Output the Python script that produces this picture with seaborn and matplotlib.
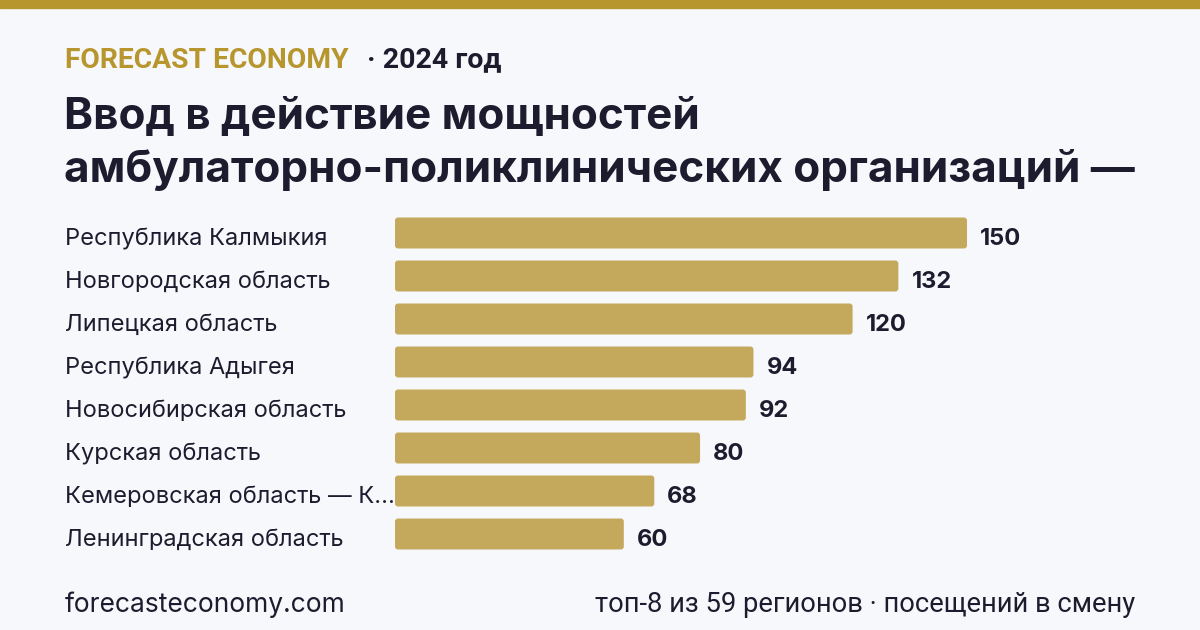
import seaborn as sns
import matplotlib.pyplot as plt
import matplotlib.transforms as mtransforms
from matplotlib.patches import FancyBboxPatch
import pandas as pd

# data
regions = [
    "Республика Калмыкия",
    "Новгородская область",
    "Липецкая область",
    "Республика Адыгея",
    "Новосибирская область",
    "Курская область",
    "Кемеровская область — К...",
    "Ленинградская область",
]
visits = [150, 132, 120, 94, 92, 80, 68, 60]

brand = "FORECAST ECONOMY"
year_note = "· 2024 год"
title_lines = ["Ввод в действие мощностей",
               "амбулаторно-поликлинических организаций —"]
footer_left = "forecasteconomy.com"
footer_right = "топ-8 из 59 регионов · посещений в смену"

BG = "#f7f8fc"
GOLD = "#b8962e"
BAR = "#c4a85b"
INK = "#1c1c2e"

sns.set_theme(style="white")
plt.rcParams["font.family"] = ["Inter", "DejaVu Sans"]

W, H = 1200, 630
fig = plt.figure(figsize=(W / 100, H / 100), dpi=100, facecolor=BG)


def fx(px):
    return px / W


def fy(py):
    return 1 - py / H


# top gold stripe
fig.patches.append(plt.Rectangle((0, fy(8)), 1, 8 / H, transform=fig.transFigure,
                                 color=GOLD, zorder=0))

# header
fig.text(fx(65), fy(60), brand, color=GOLD, fontsize=20.3, fontweight="bold",
         family=["Roboto", "DejaVu Sans"], va="center")
fig.text(fx(367), fy(60), year_note, color=INK, fontsize=20.5, fontweight="bold",
         family=["Roboto", "DejaVu Sans"], va="center")
fig.text(fx(64), fy(117), title_lines[0], color=INK, fontsize=31.7, fontweight="bold",
         va="center")
fig.text(fx(64), fy(170), title_lines[1], color=INK, fontsize=31.7, fontweight="bold",
         va="center")

# bars
df = pd.DataFrame({"region": regions, "visits": visits})
top, bottom = 211.5, 555.5
ax = fig.add_axes([fx(395), fy(bottom), (967 - 395) / W, (bottom - top) / H])
ax.set_facecolor(BG)
sns.barplot(data=df, x="visits", y="region", color=BAR, width=0.72,
            saturation=1, ax=ax)
ax.set_xlim(0, 150)
ax.set_ylim(len(regions) - 0.5, -0.5)
ax.set_xlabel("")
ax.set_ylabel("")
ax.set_xticks([])
ax.set_yticks([])
for s in ax.spines.values():
    s.set_visible(False)

# swap the plain bars for ones with slightly rounded corners
x_per_px = 150 / 572
y_per_px = 1 / 43
for p in list(ax.patches):
    x0, y0 = p.get_x(), p.get_y()
    w, h = p.get_width(), p.get_height()
    rb = FancyBboxPatch((x0, y0), w, h,
                        boxstyle=f"round,pad=0,rounding_size={3 * x_per_px}",
                        mutation_aspect=y_per_px / x_per_px,
                        facecolor=BAR, edgecolor="none")
    p.remove()
    ax.add_patch(rb)

lab_tr = mtransforms.blended_transform_factory(fig.transFigure, ax.transData)
for i, (r, v) in enumerate(zip(regions, visits)):
    ax.annotate(r, (fx(65), i), xycoords=lab_tr, xytext=(0, -4.5),
                textcoords="offset points", color=INK, fontsize=17,
                va="center", ha="left", annotation_clip=False)
    ax.annotate(str(v), (v, i), xytext=(9.4, -4.5), textcoords="offset points",
                color=INK, fontsize=17, fontweight="bold", va="center",
                ha="left", annotation_clip=False)

# footer
fig.text(fx(65), fy(605), footer_left, color=INK, fontsize=19, va="center")
fig.text(fx(1135), fy(605), footer_right, color=INK, fontsize=19.7, va="center",
         ha="right", family=["Roboto", "DejaVu Sans"])

fig.savefig("out.png", dpi=100, facecolor=BG)
